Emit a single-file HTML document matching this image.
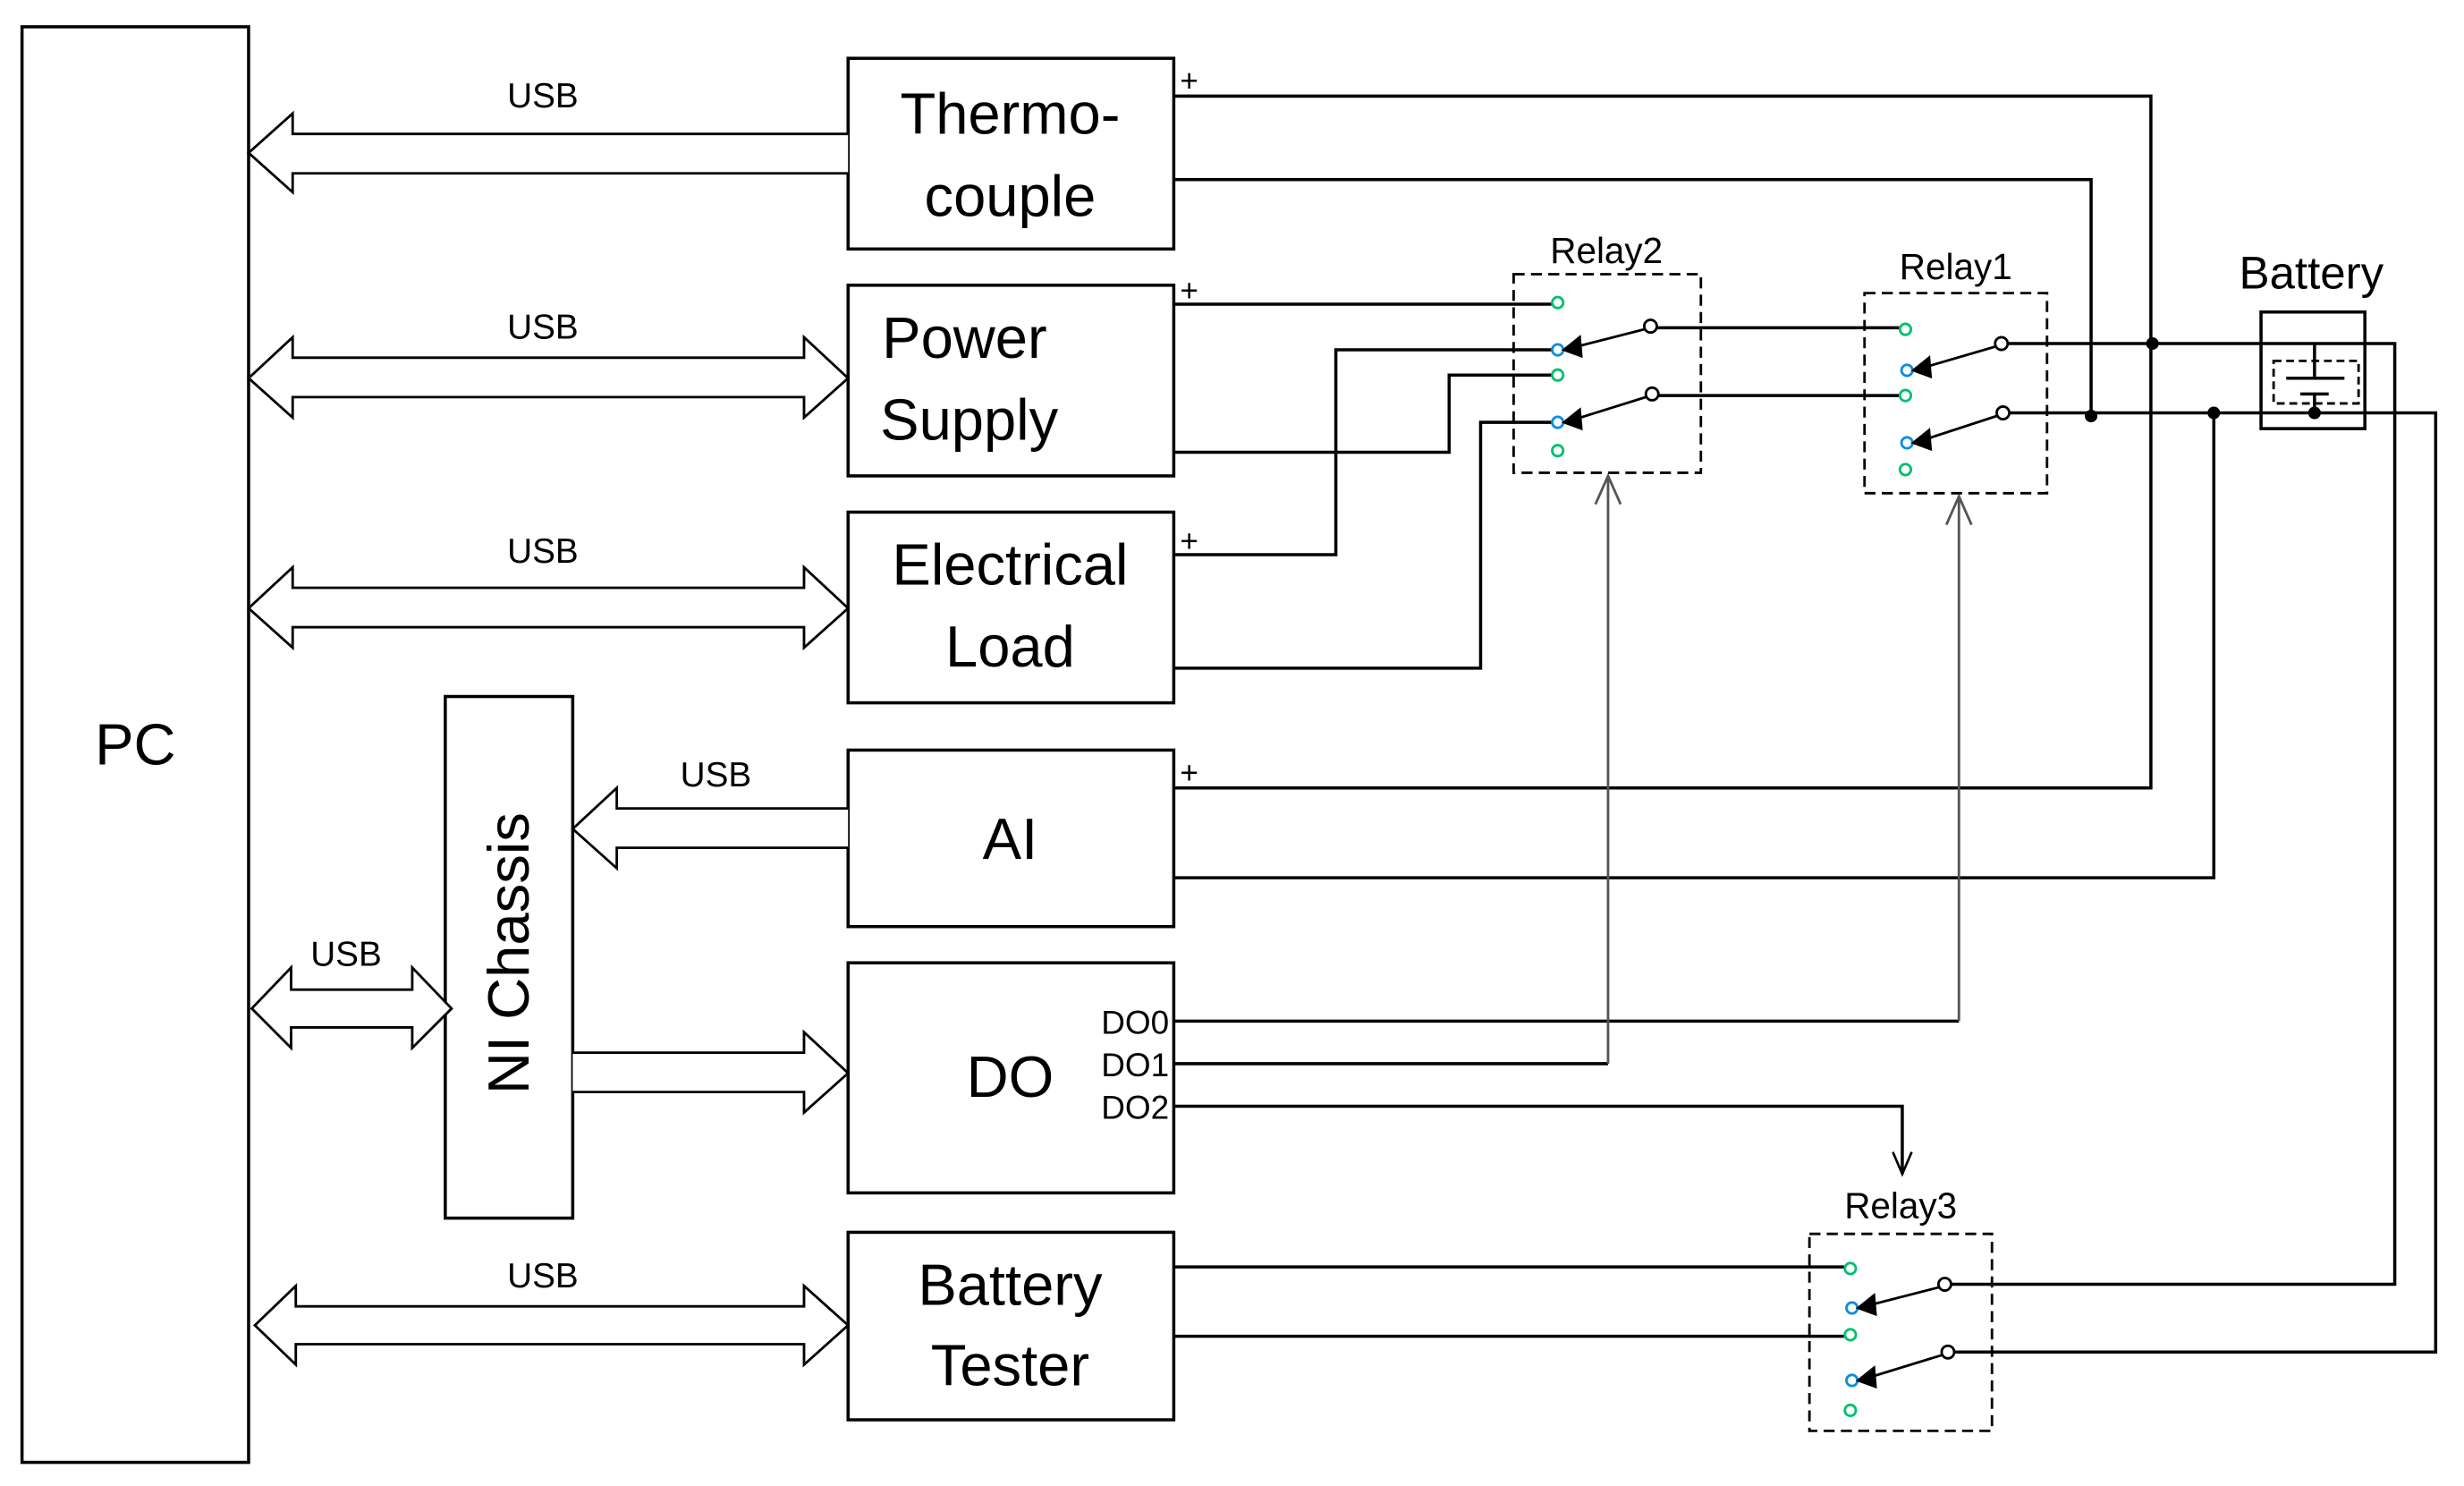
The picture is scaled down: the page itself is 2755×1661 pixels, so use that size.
<!DOCTYPE html>
<html><head><meta charset="utf-8">
<style>
html,body{margin:0;padding:0;background:#fff;}
svg{display:block;}
text{font-family:"Liberation Sans",sans-serif;fill:#000;}
</style></head>
<body>
<svg width="2755" height="1661" viewBox="0 0 1566 943" preserveAspectRatio="none" xmlns="http://www.w3.org/2000/svg">
<g fill="none" stroke="#000" stroke-width="2">
<rect x="14" y="17" width="144" height="911"/>
<rect x="539" y="37" width="207" height="121"/>
<rect x="539" y="181" width="207" height="121"/>
<rect x="539" y="325" width="207" height="121"/>
<rect x="539" y="476" width="207" height="112"/>
<rect x="539" y="611" width="207" height="146"/>
<rect x="539" y="782" width="207" height="119"/>
<rect x="283" y="442" width="81" height="331"/>
</g>
<g fill="#fff" stroke="#000" stroke-width="1.6" stroke-linejoin="miter">
<path d="M539,85 H186 V72 L158,97 L186,122 V110 H539"/>
<path d="M186,227 H511 V214 L539,240 L511,265 V252 H186 V265 L158,240 L186,214 Z"/>
<path d="M186,373 H511 V360 L539,386 L511,411 V398 H186 V411 L158,386 L186,360 Z"/>
<path d="M539,513 H392 V500 L364,526 L392,551 V538 H539"/>
<path d="M185,628 H262 V614 L287,640 L262,665 V652 H185 V665 L160,640 L185,614 Z"/>
<path d="M364,668 H511 V655 L539,681 L511,706 V693 H364"/>
<path d="M188,829 H511 V816 L539,841 L511,866 V853 H188 V866 L162,841 L188,816 Z"/>
</g>
<g font-size="22" text-anchor="middle">
<text x="345" y="68">USB</text>
<text x="345" y="215">USB</text>
<text x="345" y="357">USB</text>
<text x="455" y="499">USB</text>
<text x="220" y="613">USB</text>
<text x="345" y="817">USB</text>
</g>
<g font-size="37" text-anchor="middle">
<text x="86" y="485">PC</text>
<text x="642" y="85">Thermo-</text>
<text x="642" y="137">couple</text>
<text x="613" y="227">Power</text>
<text x="616" y="279">Supply</text>
<text x="642" y="371">Electrical</text>
<text x="642" y="423">Load</text>
<text x="642" y="545">AI</text>
<text x="642" y="696">DO</text>
<text x="642" y="828">Battery</text>
<text x="642" y="879">Tester</text>
<text x="0" y="0" transform="translate(336,605) rotate(-90)">NI Chassis</text>
</g>
<g font-size="21" text-anchor="end">
<text x="743" y="656">DO0</text>
<text x="743" y="683">DO1</text>
<text x="743" y="710">DO2</text>
</g>
<g font-size="20">
<text x="750" y="58">+</text>
<text x="750" y="191">+</text>
<text x="750" y="350">+</text>
<text x="750" y="497">+</text>
</g>
<g font-size="23" text-anchor="middle">
<text x="1021" y="167">Relay2</text>
<text x="1243" y="177">Relay1</text>
<text x="1469" y="183" font-size="29">Battery</text>
<text x="1208" y="773">Relay3</text>
</g>
<g fill="none" stroke="#000" stroke-width="2">
<path d="M746,61 H1367 V500 H746"/>
<path d="M746,114 H1329 V264"/>
<path d="M746,193 H986"/>
<path d="M746,287 H921 V238 H986"/>
<path d="M746,352 H849 V222 H986"/>
<path d="M746,424 H941 V268 H986"/>
<path d="M1053,208 H1207"/>
<path d="M1054,251 H1207"/>
<path d="M1276,218 H1522 V815 H1240"/>
<path d="M1277,262 H1548 V858 H1242"/>
<path d="M746,557 H1407 V262"/>
<path d="M746,648 H1245"/>
<path d="M746,675 H1022"/>
<path d="M746,702 H1209 V745"/>
<path d="M1203,731 L1209,745 L1215,731" stroke-width="1.5"/>
<path d="M746,804 H1172"/>
<path d="M746,848 H1172"/>
<rect x="1437" y="198" width="66" height="74"/>
<rect x="1445" y="229" width="54" height="27" stroke-dasharray="5,3" stroke-width="1.6"/>
<path d="M1471,218 V240 M1453,240 H1490 M1462,250 H1480 M1471,250 V262"/>
</g>
<g fill="none" stroke="#555" stroke-width="1.6">
<path d="M1245,648 V315"/>
<path d="M1237,333 L1245,315 L1253,333"/>
<path d="M1022,675 V302"/>
<path d="M1014,320 L1022,302 L1030,320"/>
</g>
<g fill="#000">
<circle cx="1368" cy="218" r="4"/>
<circle cx="1329" cy="264" r="4"/>
<circle cx="1407" cy="262" r="4"/>
<circle cx="1471" cy="262" r="4"/>
</g>
<g fill="none" stroke="#000" stroke-width="1.6" stroke-dasharray="7,4">
<rect x="962" y="174" width="119" height="126"/>
<rect x="1185" y="186" width="116" height="127"/>
<rect x="1150" y="783" width="116" height="125"/>
</g>
<g fill="#fff" stroke-width="1.6">
<circle cx="990" cy="192" r="3.5" stroke="#00c070"/>
<circle cx="990" cy="222" r="3.5" stroke="#0a8ee0"/>
<circle cx="990" cy="238" r="3.5" stroke="#00c070"/>
<circle cx="990" cy="268" r="3.5" stroke="#0a8ee0"/>
<circle cx="990" cy="286" r="3.5" stroke="#00c070"/>
<circle cx="1049" cy="207" r="4" stroke="#000"/>
<circle cx="1050" cy="250" r="4" stroke="#000"/>
<circle cx="1211" cy="209" r="3.5" stroke="#00c070"/>
<circle cx="1212" cy="235" r="3.5" stroke="#0a8ee0"/>
<circle cx="1211" cy="251" r="3.5" stroke="#00c070"/>
<circle cx="1212" cy="281" r="3.5" stroke="#0a8ee0"/>
<circle cx="1211" cy="298" r="3.5" stroke="#00c070"/>
<circle cx="1272" cy="218" r="4" stroke="#000"/>
<circle cx="1273" cy="262" r="4" stroke="#000"/>
<circle cx="1176" cy="805" r="3.5" stroke="#00c070"/>
<circle cx="1177" cy="830" r="3.5" stroke="#0a8ee0"/>
<circle cx="1176" cy="847" r="3.5" stroke="#00c070"/>
<circle cx="1177" cy="876" r="3.5" stroke="#0a8ee0"/>
<circle cx="1176" cy="895" r="3.5" stroke="#00c070"/>
<circle cx="1236" cy="815" r="4" stroke="#000"/>
<circle cx="1238" cy="858" r="4" stroke="#000"/>
</g>
<g stroke="#000" stroke-width="1.6" fill="#000">
<line x1="1045" y1="209" x2="998" y2="221"/><path d="M994,222 L1004,214 L1005,226 Z"/>
<line x1="1046" y1="252" x2="998" y2="267"/><path d="M994,268 L1004,260 L1005,272 Z"/>
<line x1="1268" y1="220" x2="1220" y2="234"/><path d="M1216,235 L1226,227 L1227,239 Z"/>
<line x1="1269" y1="264" x2="1220" y2="280"/><path d="M1216,281 L1226,273 L1227,285 Z"/>
<line x1="1232" y1="817" x2="1185" y2="829"/><path d="M1181,830 L1191,822 L1192,834 Z"/>
<line x1="1234" y1="860" x2="1185" y2="875"/><path d="M1181,876 L1191,868 L1192,880 Z"/>
</g>
</svg>
</body></html>
